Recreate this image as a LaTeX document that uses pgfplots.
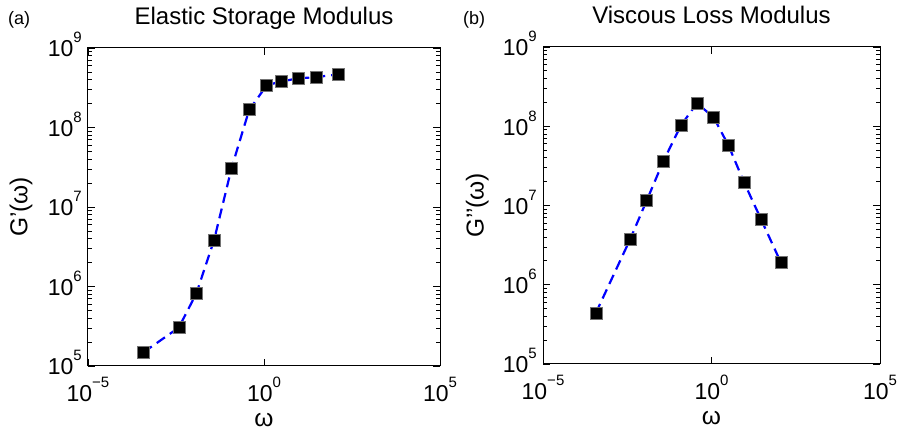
\documentclass[border=0pt]{standalone}
\usepackage{pgfplots}
\pgfplotsset{compat=1.18}
\usepackage{fontspec}
\setmainfont{Liberation Sans}
\newcommand{\tl}[1]{10\raisebox{14bp}{\fontsize{15bp}{15bp}\selectfont #1}}
\pgfplotstableread{
w Gp
3.8e-4 1.49e5
3.8e-3 3.04e5
1.2e-2 8.2e5
3.8e-2 3.8e6
1.2e-1 3.1e7
3.8e-1 1.67e8
1.2 3.39e8
3.1 3.8e8
9.5 4.15e8
30 4.3e8
126 4.66e8
}\storage
\pgfplotstableread{
w Gpp
3.7e-4 4.4e5
3.8e-3 3.7e6
1.2e-2 1.16e7
3.7e-2 3.6e7
1.23e-1 1.02e8
3.7e-1 1.95e8
1.15 1.3e8
3.2 5.7e7
9.3 1.95e7
29.5 6.7e6
115 1.9e6
}\loss
\begin{document}
\begin{tikzpicture}
\useasboundingbox (0,0) rectangle (898bp,434bp);
\begin{axis}[at={(88bp,68bp)}, anchor=south west, width=352bp, height=318bp,
    scale only axis,
    xmode=log, ymode=log,
    xmin=1e-5, xmax=1e5, ymin=1e5, ymax=1e9,
    xtick={1e-5,1,1e5},
    xticklabels={\tl{−5},\tl{0},\tl{5}},
    ytick={1e5,1e6,1e7,1e8,1e9},
    yticklabels={\tl{5},\tl{6},\tl{7},\tl{8},\tl{9}},
    minor xtick={},
    tick align=inside,
    major tick length=7bp,
    minor tick length=4bp,
    axis line style={line width=1bp},
    every tick/.style={black, line width=0.8bp},
    tick label style={font=\fontsize{23bp}{26bp}\selectfont, inner sep=0pt},
    xticklabel style={anchor=base, yshift=-36bp},
    yticklabel style={anchor=base east, xshift=-6bp, yshift=-9bp},
    title style={font=\fontsize{24bp}{28bp}\selectfont, anchor=base, at={(axis description cs:0.5,1)}, yshift=18bp},
    label style={font=\fontsize{24.5bp}{28bp}\selectfont},
    xlabel style={at={(axis description cs:0.5,0)}, anchor=base, yshift=-61bp},
    xlabel={ω},
  title={Elastic Storage Modulus},
  ylabel={G’(ω)},
  ylabel style={at={(axis description cs:-0.19,0.5)}, anchor=center}]
\addplot[blue, line width=2.2bp, dash pattern=on 10bp off 6bp,
    mark=square*, mark size=6bp,
    mark options={solid, fill=black, draw=black!55, line width=0.6bp}] table[x=w,y=Gp] {\storage};
\end{axis}
\begin{axis}[at={(543bp,70bp)}, anchor=south west, width=337bp, height=317bp,
    scale only axis,
    xmode=log, ymode=log,
    xmin=1e-5, xmax=1e5, ymin=1e5, ymax=1e9,
    xtick={1e-5,1,1e5},
    xticklabels={\tl{−5},\tl{0},\tl{5}},
    ytick={1e5,1e6,1e7,1e8,1e9},
    yticklabels={\tl{5},\tl{6},\tl{7},\tl{8},\tl{9}},
    minor xtick={},
    tick align=inside,
    major tick length=7bp,
    minor tick length=4bp,
    axis line style={line width=1bp},
    every tick/.style={black, line width=0.8bp},
    tick label style={font=\fontsize{23bp}{26bp}\selectfont, inner sep=0pt},
    xticklabel style={anchor=base, yshift=-36bp},
    yticklabel style={anchor=base east, xshift=-6bp, yshift=-9bp},
    title style={font=\fontsize{24bp}{28bp}\selectfont, anchor=base, at={(axis description cs:0.5,1)}, yshift=18bp},
    label style={font=\fontsize{24.5bp}{28bp}\selectfont},
    xlabel style={at={(axis description cs:0.5,0)}, anchor=base, yshift=-61bp},
    xlabel={ω},
  title={Viscous Loss Modulus},
  ylabel={G’’(ω)},
  ylabel style={at={(axis description cs:-0.195,0.5)}, anchor=center}]
\addplot[blue, line width=2.2bp, dash pattern=on 10bp off 6bp,
    mark=square*, mark size=6bp,
    mark options={solid, fill=black, draw=black!55, line width=0.6bp}] table[x=w,y=Gpp] {\loss};
\end{axis}
\node[anchor=base west, font=\fontsize{18bp}{20bp}\selectfont, inner sep=0pt] at (8bp,409.5bp) {(a)};
\node[anchor=base west, font=\fontsize{18bp}{20bp}\selectfont, inner sep=0pt] at (463bp,409.5bp) {(b)};
\end{tikzpicture}
\end{document}
